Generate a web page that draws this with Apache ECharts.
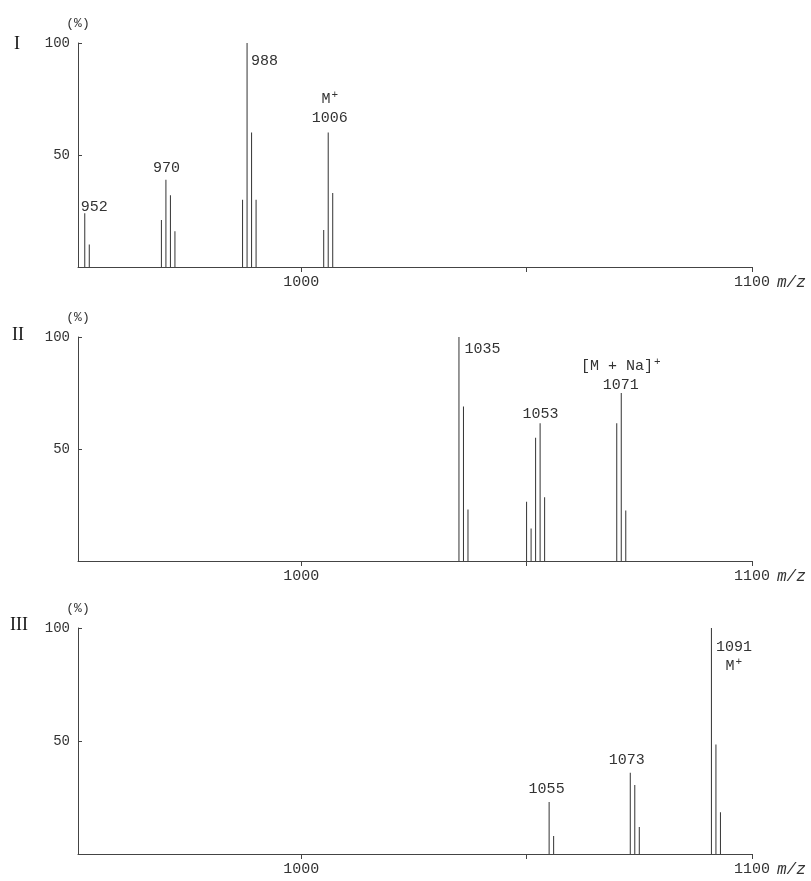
<!DOCTYPE html>
<html>
<head>
<meta charset="utf-8">
<script src="https://cdn.jsdelivr.net/npm/echarts@6/dist/echarts.min.js"></script>
<style>html,body{margin:0;padding:0;background:#fff}#c{width:811px;height:881px}</style>
</head>
<body>
<div id="c"></div>
<script>
// ---- data ----
const panelNames = ['I', 'II', 'III'];
const xTickValues = [1000, 1050, 1100];
const xLabelValues = [1000, 1100];
const yTickValues = [0, 50, 100];

const mz1 = [952, 953, 969, 970, 971, 972, 987, 988, 989, 990, 1005, 1006, 1007];
const int1 = [24, 10, 21, 39, 32, 16, 30, 100, 60, 30, 16.5, 60, 33];
const ann1 = [[952, '952'], [970, '970'], [988, '988'], [1006, '{t|M}{s|+}\n{t|1006}']];

const mz2 = [1035, 1036, 1037, 1050, 1051, 1052, 1053, 1054, 1070, 1071, 1072];
const int2 = [100, 69, 23, 26.5, 14.5, 55, 61.5, 28.5, 61.5, 75, 22.5];
const ann2 = [[1035, '1035'], [1053, '1053'], [1071, '{t|[M + Na]}{s|+}\n{t|1071}']];

const mz3 = [1055, 1056, 1073, 1074, 1075, 1091, 1092, 1093];
const int3 = [23, 8, 36, 30.5, 12, 100, 48.5, 18.5];
const ann3 = [[1055, '1055'], [1073, '1073'], [1091, '{t|1091}\n{t|M}{s|+}']];

// ---- layout / styles (kept apart from data) ----
const labelPos = [
  [[10, -6], [1, -12], [18, 18], [2, -24]],
  [[24, 12], [1, -9], [0, -17]],
  [[-2, -13], [-3, -13], [23, 29]]
];
const grids = [
  {left: 78, top: 43, width: 674, height: 224},
  {left: 78, top: 337, width: 674, height: 224},
  {left: 78, top: 628, width: 674, height: 226}
];
const romanPos = [[14, 35], [12, 326], [10, 616]];
const FONT = 'Liberation Mono';
const INK = '#333';

const panels = [[mz1, int1, ann1], [mz2, int2, ann2], [mz3, int3, ann3]];

const option = {
  backgroundColor: '#fff',
  animation: false,
  title: panelNames.map((t, i) => ({
    text: t, left: romanPos[i][0], top: romanPos[i][1], padding: 0,
    textStyle: {fontFamily: 'Liberation Serif', fontSize: 18, fontWeight: 'normal', color: '#111'}
  })),
  grid: grids,
  xAxis: grids.map((g, i) => ({
    type: 'value', gridIndex: i, min: 950.5, max: 1100,
    splitLine: {show: false},
    axisLine: {lineStyle: {color: '#444', width: 1}},
    axisTick: {show: true, inside: false, length: 5, customValues: xTickValues, lineStyle: {color: '#444'}},
    axisLabel: {customValues: xLabelValues, margin: 8, fontFamily: FONT, fontSize: 15, color: INK,
      formatter: v => String(v)},
    name: 'm/z', nameLocation: 'end', nameGap: 25,
    nameTextStyle: {fontFamily: FONT, fontStyle: 'italic', fontSize: 16, color: INK,
      verticalAlign: 'top', padding: [8, 0, 0, 0]}
  })),
  yAxis: grids.map((g, i) => ({
    type: 'value', gridIndex: i, min: 0, max: 100, interval: 50,
    splitLine: {show: false},
    axisLine: {show: true, lineStyle: {color: '#444', width: 1}},
    axisTick: {show: true, inside: true, length: 4, lineStyle: {color: '#444'}},
    axisLabel: {margin: 8, fontFamily: FONT, fontSize: 14, color: INK,
      formatter: v => (v === 0 ? '' : String(v))},
    name: '(%)', nameLocation: 'end', nameGap: 13,
    nameTextStyle: {fontFamily: FONT, fontSize: 13, color: INK}
  })),
  series: panels.map(([mz, inten, ann], i) => {
    const annMap = {};
    ann.forEach(([m, txt], k) => { annMap[m] = {txt, pos: labelPos[i][k]}; });
    return {
      type: 'bar', xAxisIndex: i, yAxisIndex: i, barWidth: 1,
      itemStyle: {color: INK},
      data: mz.map((m, k) => {
        const item = {value: [m, inten[k]]};
        if (annMap[m]) {
          const a = annMap[m];
          item.label = {
            show: true, position: a.pos, align: 'center', verticalAlign: 'middle',
            formatter: a.txt,
            fontFamily: FONT, fontSize: 15, color: INK, lineHeight: 19,
            rich: {
              t: {fontFamily: FONT, fontSize: 15, color: INK, lineHeight: 19},
              s: {fontFamily: FONT, fontSize: 11, color: INK, lineHeight: 19, verticalAlign: 'top', padding: [0, 0, 8, 1]}
            }
          };
        }
        return item;
      })
    };
  })
};

const chart = echarts.init(document.getElementById('c'), null, {renderer: 'canvas'});
chart.setOption(option);
</script>
</body>
</html>
